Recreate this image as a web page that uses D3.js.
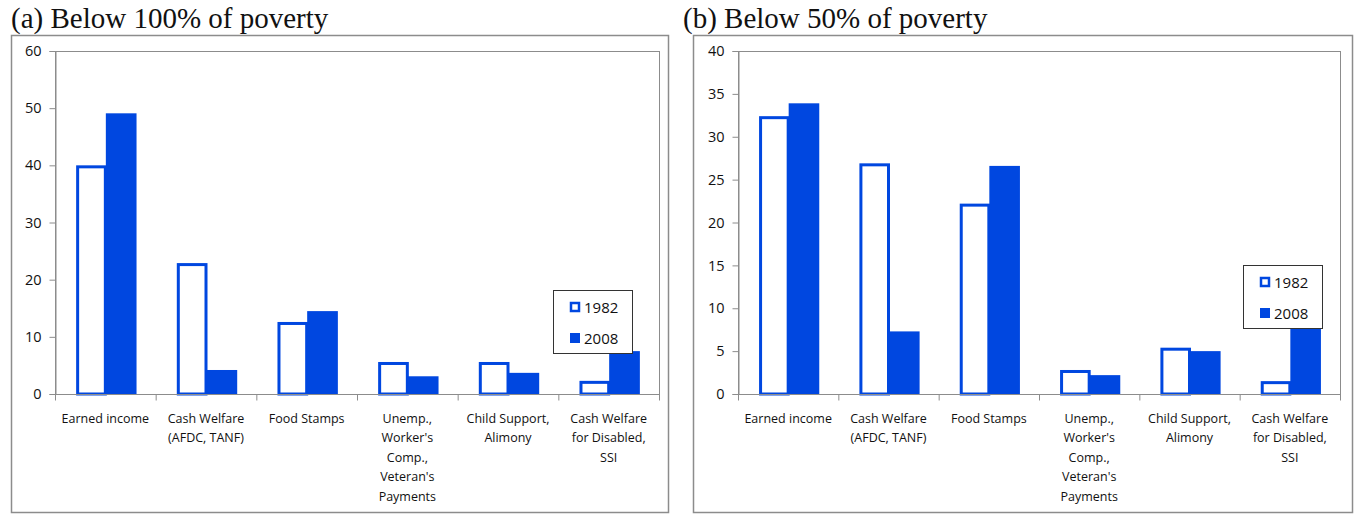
<!DOCTYPE html>
<html>
<head>
<meta charset="utf-8">
<script src="https://cdn.jsdelivr.net/npm/d3@7"></script>
<style>
  body { margin: 0; background: #fff; }
  svg { display: block; }
</style>
</head>
<body>
<svg id="chart"></svg>
<script>
let categories = [
  ['Earned income'],
  ['Cash Welfare', '(AFDC, TANF)'],
  ['Food Stamps'],
  ['Unemp.,', "Worker's", 'Comp.,', "Veteran's", 'Payments'],
  ['Child Support,', 'Alimony'],
  ['Cash Welfare', 'for Disabled,', 'SSI']
]
let years = ['1982', '2008']

let below100_1982 = [40.0, 22.9, 12.6, 5.6, 5.6, 2.3]
let below100_2008 = [49.1, 4.2, 14.5, 3.1, 3.7, 7.5]
let below50_1982 = [32.4, 26.9, 22.2, 2.8, 5.4, 1.5]
let below50_2008 = [33.9, 7.3, 26.6, 2.2, 5.0, 9.5]

let ticks100 = [0, 10, 20, 30, 40, 50, 60]
let ticks50 = [0, 5, 10, 15, 20, 25, 30, 35, 40]

let width = 1356
let height = 515
let blue = '#0047e0'
let gray = '#8c8c8c'

let svg = d3.select('#chart').attr('width', width).attr('height', height)

let drawPanel = (p) => {
  let g = svg.append('g')

  // title
  g.append('text')
    .attr('x', p.titleX).attr('y', 28)
    .attr('font-family', '"Liberation Serif", "Times New Roman", serif')
    .attr('font-size', 29)
    .attr('fill', '#111')
    .text(p.title)

  // outer frame
  g.append('rect')
    .attr('x', p.frame[0] + 0.5).attr('y', 35.5)
    .attr('width', p.frame[1] - p.frame[0]).attr('height', 477)
    .attr('fill', 'none').attr('stroke', gray).attr('stroke-width', 1.5)

  let xScale = d3.scaleBand()
    .domain(d3.range(categories.length))
    .range([p.plot[0], p.plot[1]])
    .padding(0)

  let x1 = d3.scaleBand()
    .domain(years)
    .range([xScale.bandwidth() * 0.21, xScale.bandwidth() * 0.8])

  let yScale = d3.scaleLinear()
    .domain([0, d3.max(p.ticks)])
    .range([394, 51])

  // plot area border
  g.append('rect')
    .attr('x', p.plot[0] + 0.5).attr('y', 51.5)
    .attr('width', p.plot[1] - p.plot[0]).attr('height', 394 - 51)
    .attr('fill', 'none').attr('stroke', gray).attr('stroke-width', 1)

  // y axis
  let yAxis = d3.axisLeft(yScale).tickValues(p.ticks).tickSize(6).tickPadding(8)
  let ya = g.append('g')
    .attr('transform', 'translate(' + (p.plot[0] + 0.5) + ',0)')
    .call(yAxis)
  ya.select('.domain').attr('stroke', gray)
  ya.selectAll('.tick line').attr('stroke', gray)
  ya.selectAll('.tick text')
    .attr('font-family', '"Open Sans", sans-serif')
    .attr('font-size', 14.5)
    .attr('fill', '#111')

  // bars
  let rows = categories.map((c, i) => ({ i: i, vals: [p.v1982[i], p.v2008[i]] }))
  let groups = g.selectAll('.grp')
    .data(rows)
    .enter()
    .append('g')
    .attr('transform', (d) => 'translate(' + xScale(d.i) + ',0)')

  groups.append('rect')
    .attr('x', x1('1982') + 1.5)
    .attr('width', x1.bandwidth() - 2)
    .attr('y', (d) => yScale(d.vals[0]) + 1.5)
    .attr('height', (d) => yScale(0) - yScale(d.vals[0]) - 1.5)
    .attr('fill', '#fff').attr('stroke', blue).attr('stroke-width', 3)

  groups.append('rect')
    .attr('x', x1('2008'))
    .attr('width', x1.bandwidth() + 1)
    .attr('y', (d) => yScale(d.vals[1]))
    .attr('height', (d) => yScale(0) - yScale(d.vals[1]))
    .attr('fill', blue)

  // x axis
  let xa = g.append('g').attr('transform', 'translate(0,' + 394.5 + ')')
  xa.append('line')
    .attr('x1', p.plot[0]).attr('x2', p.plot[1])
    .attr('stroke', gray)
  xa.selectAll('.xt')
    .data(d3.range(categories.length + 1))
    .enter()
    .append('line')
    .attr('x1', (d) => (d < categories.length ? xScale(d) : p.plot[1]) + 0.5)
    .attr('x2', (d) => (d < categories.length ? xScale(d) : p.plot[1]) + 0.5)
    .attr('y1', 0).attr('y2', 6)
    .attr('stroke', gray)

  let labels = xa.selectAll('.xl')
    .data(categories)
    .enter()
    .append('text')
    .attr('text-anchor', 'middle')
    .attr('font-family', '"Open Sans", sans-serif')
    .attr('font-size', 12.5)
    .attr('fill', '#111')
    .attr('transform', (d, i) => 'translate(' + (xScale(i) + xScale.bandwidth() / 2) + ',28)')
  labels.selectAll('tspan')
    .data((d) => d)
    .enter()
    .append('tspan')
    .attr('x', 0)
    .attr('y', (d, j) => j * 19.5)
    .text((d) => d)

  // legend
  let lg = g.append('g').attr('transform', 'translate(' + p.legend[0] + ',' + p.legend[1] + ')')
  lg.append('rect')
    .attr('x', 0.5).attr('y', 0.5).attr('width', 79).attr('height', 63)
    .attr('fill', '#fff').attr('stroke', '#333').attr('stroke-width', 1)
  years.forEach((yr, k) => {
    let cy = 17 + k * 31
    lg.append('rect')
      .attr('x', k === 0 ? 18 : 17).attr('y', k === 0 ? cy - 4 : cy - 5)
      .attr('width', k === 0 ? 8 : 10).attr('height', k === 0 ? 8 : 10)
      .attr('fill', k === 0 ? '#fff' : blue)
      .attr('stroke', k === 0 ? blue : 'none').attr('stroke-width', 2.5)
    lg.append('text')
      .attr('x', 31).attr('y', cy + 5.5)
      .attr('font-family', '"Open Sans", sans-serif')
      .attr('font-size', 15)
      .attr('fill', '#111')
      .text(yr)
  })
}

drawPanel({
  title: '(a) Below 100% of poverty',
  titleX: 11,
  frame: [11, 668],
  plot: [55, 659],
  ticks: ticks100,
  v1982: below100_1982,
  v2008: below100_2008,
  legend: [553, 290]
})

drawPanel({
  title: '(b) Below 50% of poverty',
  titleX: 683,
  frame: [693, 1352],
  plot: [738, 1340],
  ticks: ticks50,
  v1982: below50_1982,
  v2008: below50_2008,
  legend: [1243, 265]
})
</script>
</body>
</html>
